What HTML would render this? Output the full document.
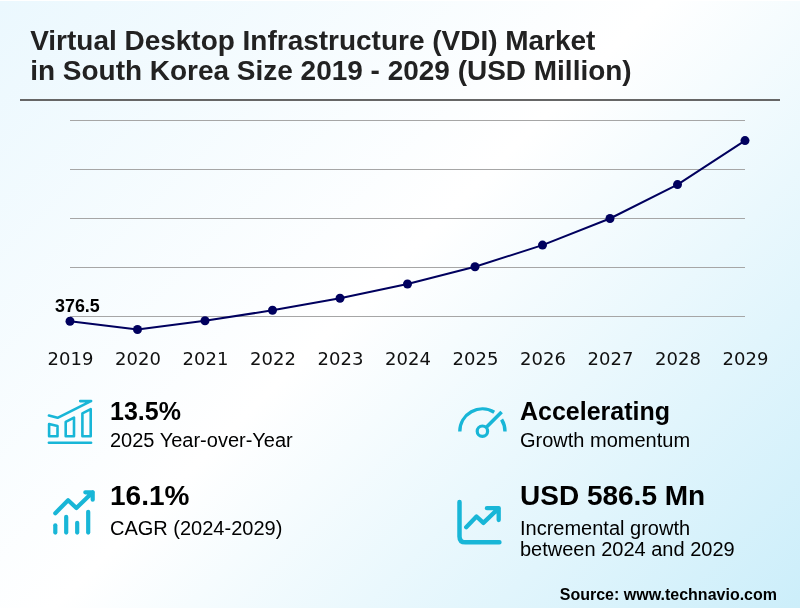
<!DOCTYPE html>
<html lang="en">
<head>
<meta charset="utf-8">
<title>Virtual Desktop Infrastructure (VDI) Market in South Korea</title>
<style>
html,body{margin:0;padding:0;background:#fff;}
body{width:800px;height:610px;overflow:hidden;position:relative;}
svg{display:block;position:absolute;left:0;top:0;}
.b{font-family:"Liberation Sans",Arial,sans-serif;font-weight:700;}
.r{font-family:"Liberation Sans",Arial,sans-serif;font-weight:400;}
.d{font-family:"DejaVu Sans","Liberation Sans",sans-serif;font-weight:400;}
</style>
</head>
<body>
<svg width="800" height="610" viewBox="0 0 800 610">
  <defs>
    <linearGradient id="bg" gradientUnits="userSpaceOnUse" x1="0" y1="0" x2="704" y2="704">
      <stop offset="0" stop-color="#ebf8fe"/>
      <stop offset="0.47" stop-color="#ffffff"/>
      <stop offset="1" stop-color="#cceefa"/>
    </linearGradient>
  </defs>
  <rect x="0" y="1" width="800" height="607" fill="url(#bg)"/>

  <!-- title -->
  <text class="b" x="30.2" y="49.5" font-size="27.97" fill="#222">Virtual Desktop Infrastructure (VDI) Market</text>
  <text class="b" x="30.2" y="79.7" font-size="27.97" fill="#222">in South Korea Size 2019 - 2029 (USD Million)</text>
  <rect x="20" y="99" width="760" height="2" fill="#666"/>

  <!-- grid -->
  <g stroke="#a6a6a6" stroke-width="1">
    <line x1="70" y1="120.5" x2="745" y2="120.5"/>
    <line x1="70" y1="169.5" x2="745" y2="169.5"/>
    <line x1="70" y1="218.5" x2="745" y2="218.5"/>
    <line x1="70" y1="267.5" x2="745" y2="267.5"/>
    <line x1="70" y1="316.5" x2="745" y2="316.5"/>
  </g>

  <!-- series -->
  <polyline fill="none" stroke="#00005e" stroke-width="2" stroke-linejoin="round"
    points="70,321.2 137.5,329.5 205,320.8 272.5,310.3 340,298.3 407.5,284 475,266.8 542.5,245.1 610,218.5 677.5,184.6 745,140.6"/>
  <g fill="#00005e">
    <circle cx="70" cy="321.2" r="4.5"/>
    <circle cx="137.5" cy="329.5" r="4.5"/>
    <circle cx="205" cy="320.8" r="4.5"/>
    <circle cx="272.5" cy="310.3" r="4.5"/>
    <circle cx="340" cy="298.3" r="4.5"/>
    <circle cx="407.5" cy="284" r="4.5"/>
    <circle cx="475" cy="266.8" r="4.5"/>
    <circle cx="542.5" cy="245.1" r="4.5"/>
    <circle cx="610" cy="218.5" r="4.5"/>
    <circle cx="677.5" cy="184.6" r="4.5"/>
    <circle cx="745" cy="140.6" r="4.5"/>
  </g>
  <text class="b" x="55" y="311.7" font-size="17.9" fill="#000">376.5</text>

  <!-- x labels -->
  <g class="d" font-size="18" fill="#111" text-anchor="middle">
    <text x="70.5" y="364.7">2019</text>
    <text x="138" y="364.7">2020</text>
    <text x="205.5" y="364.7">2021</text>
    <text x="273" y="364.7">2022</text>
    <text x="340.5" y="364.7">2023</text>
    <text x="408" y="364.7">2024</text>
    <text x="475.5" y="364.7">2025</text>
    <text x="543" y="364.7">2026</text>
    <text x="610.5" y="364.7">2027</text>
    <text x="678" y="364.7">2028</text>
    <text x="745.5" y="364.7">2029</text>
  </g>

  <!-- icon 1: bars with arrow -->
  <g fill="none" stroke="#18b6d7" stroke-width="2.6" stroke-linecap="round" stroke-linejoin="round">
    <line x1="48.9" y1="442.7" x2="91.1" y2="442.7"/>
    <path d="M49.1 424 L57.5 426.1 V436.3 H49.1 Z"/>
    <path d="M65.7 421.9 L74 417.6 V436.3 H65.7 Z"/>
    <path d="M82.4 413.3 L90.7 409.1 V436.3 H82.4 Z"/>
    <path d="M48.9 415.5 L57.6 417.8 L90.9 401.1 M80.2 401.1 H91.1"/>
  </g>

  <!-- icon 2: line + bars -->
  <g fill="none" stroke="#18b6d7" stroke-width="4.2" stroke-linecap="round" stroke-linejoin="round">
    <line x1="55.3" y1="525.3" x2="55.3" y2="532.6"/>
    <line x1="66.2" y1="516.9" x2="66.2" y2="532.6"/>
    <line x1="77.2" y1="522.8" x2="77.2" y2="532.6"/>
    <line x1="88.2" y1="511.8" x2="88.2" y2="532.6"/>
    <path d="M55.3 513.2 L68.1 500.2 L76.4 508 L92.7 492.3 M85.3 492.3 H92.7 V499.7"/>
  </g>

  <!-- icon 3: gauge -->
  <g fill="none" stroke="#18b6d7" stroke-width="3.4">
    <path d="M459.8 431.5 A22.6 22.6 0 0 1 494.2 412.2"/>
    <path d="M501.6 419.5 A22.6 22.6 0 0 1 505 431.5"/>
    <circle cx="482.4" cy="431.2" r="5.2" stroke-width="3.2"/>
    <line x1="486.1" y1="427.5" x2="501.6" y2="412" stroke-width="3.6"/>
  </g>

  <!-- icon 4: axis + trend -->
  <g fill="none" stroke="#18b6d7" stroke-width="4.5" stroke-linecap="round" stroke-linejoin="round">
    <path d="M459.5 502 V536.4 Q459.5 542.3 465.5 542.3 H499.4"/>
    <path d="M466.2 527.2 L476.5 516.5 L483.4 522.9 L498.7 508.2 M486.9 508.2 H498.7 V520" stroke-width="4.3"/>
  </g>

  <!-- stats -->
  <text class="b" x="110" y="420.2" font-size="25" fill="#000">13.5%</text>
  <text class="r" x="110" y="446.8" font-size="20" fill="#000">2025 Year-over-Year</text>
  <text class="b" x="110" y="504.8" font-size="28" fill="#000">16.1%</text>
  <text class="r" x="110" y="534.8" font-size="20" fill="#000">CAGR (2024-2029)</text>

  <text class="b" x="520" y="420.3" font-size="25" fill="#000">Accelerating</text>
  <text class="r" x="520" y="446.8" font-size="20" fill="#000">Growth momentum</text>
  <text class="b" x="520" y="504.6" font-size="28" fill="#000">USD 586.5 Mn</text>
  <text class="r" x="520" y="534.9" font-size="20" fill="#000">Incremental growth</text>
  <text class="r" x="520" y="556.3" font-size="20" fill="#000">between 2024 and 2029</text>

  <text class="b" x="777" y="599.6" font-size="16" fill="#000" text-anchor="end">Source: www.technavio.com</text>
</svg>
</body>
</html>
